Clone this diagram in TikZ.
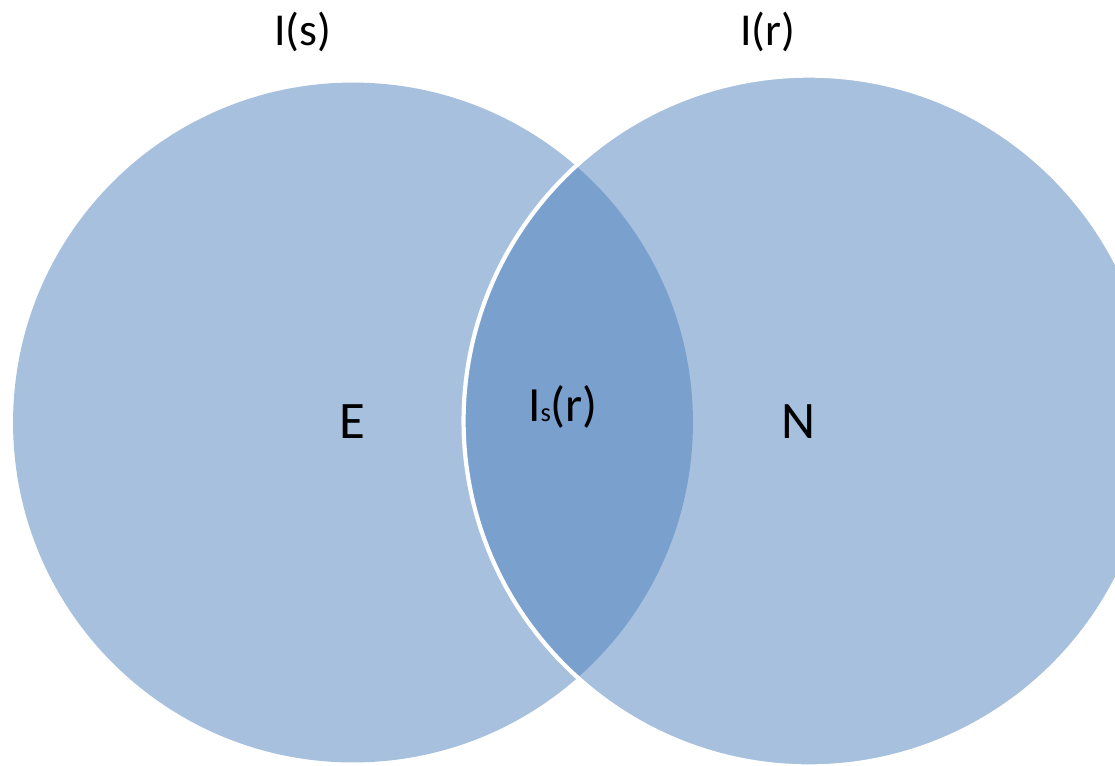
\documentclass[tikz,border=0pt]{standalone}
\usepackage{fontspec}
\setmainfont{Carlito}
\usetikzlibrary{positioning}
\definecolor{setblue}{RGB}{79,129,189}

\begin{document}
\begin{tikzpicture}[x=0.02cm, y=-0.02cm,
  set/.style={circle, fill=setblue, fill opacity=0.5, inner sep=0pt},
  lbl/.style={font=\fontsize{26}{31}\selectfont, text=black},
  big/.style={font=\fontsize{30}{36}\selectfont, text=black}
]
  \clip (0,0) rectangle (1115,765);
  \node[set, minimum size=13.6cm] (setS) at (353,422.5) {};
  \node[set, minimum size=13.82cm, draw=white, draw opacity=1, line width=2.4pt] (setR) at (809,421) {};

  \node[lbl] (labS) at (303,32) {I(s)};
  \node[lbl] (labR) at (768,32) {I(r)};
  \node[big] (onlyS) at (352,422) {E};
  \node[big] (onlyR) at (798,422) {N};
  \node[lbl, font=\fontsize{28}{33}\selectfont] (both) at (563,407) {I{\fontsize{15}{15}\selectfont s}(r)};
\end{tikzpicture}
\end{document}
